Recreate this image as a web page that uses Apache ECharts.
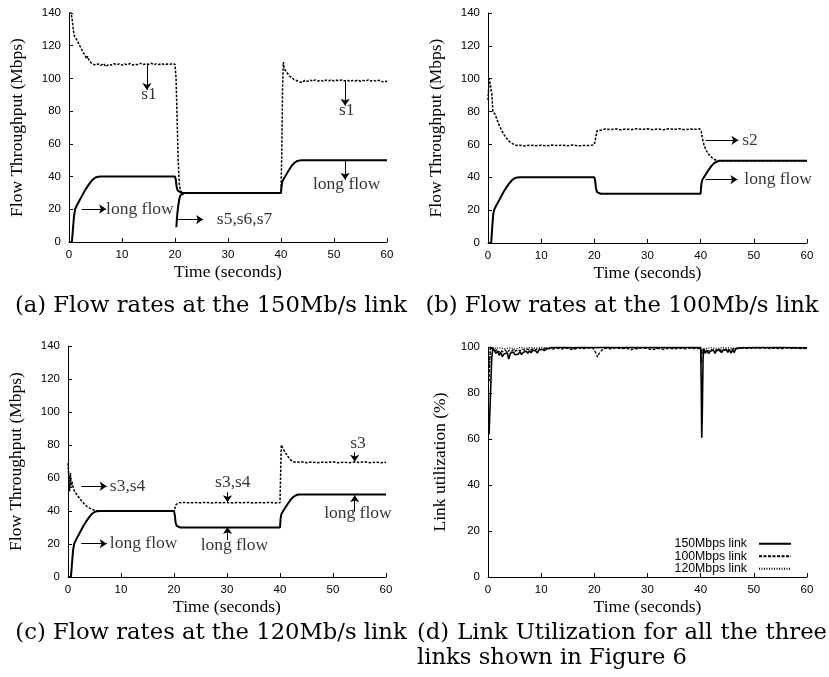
<!DOCTYPE html>
<html><head><meta charset="utf-8">
<script src="https://cdn.jsdelivr.net/npm/echarts@6/dist/echarts.min.js"></script>
<style>html,body{margin:0;padding:0;background:#fff}#c{width:829px;height:677px}</style>
</head><body><div id="c"></div>
<script>
// ---------------- DATA ----------------
const timeTicks = [0, 10, 20, 30, 40, 50, 60];
const rateTicks = [0, 20, 40, 60, 80, 100, 120, 140];
const utilTicks = [0, 20, 40, 60, 80, 100];

// (a) 150Mb/s link
const a_s1 = [[0,140],[0.4,140],[0.6,136],[0.8,130],[1,126],[1.3,124.5],[1.6,123],[2,120],[2.3,118.5],[2.6,116],[3,114.5],[3.3,112],[3.5,113.5],[3.8,111],[4,110.5],[4.3,109],[4.6,109.8],[5,108.2],[5.5,108.8],[6,108],[6.5,109],[7,107.2],[7.5,108.6],[8,108.2],[8.5,109],[9,108.4],[9.5,108.9],[10,108.1],[10.5,108.8],[11,108.3],[11.5,109.1],[12,108.2],[12.5,108.7],[13,108.4],[13.5,109.2],[14,108.5],[14.5,108.9],[15,108.6],[15.5,109.3],[16,108.4],[16.5,108.9],[17,108.5],[17.5,109.1],[18,108.4],[18.5,108.8],[19,108.6],[19.5,109],[20,108.7],[20.2,100],[20.4,75],[20.6,50],[20.8,36],[21,31.5],[21.3,30.2],[22,30],[40,30],[40.15,55],[40.3,95],[40.45,110],[40.6,106],[40.8,107],[41,104],[41.3,103],[41.6,101.5],[42,100.5],[42.5,99.2],[43,98.6],[43.5,98],[44,97.4],[44.5,98.8],[45,98.2],[45.5,99],[46,98.3],[46.5,99.1],[47,98.4],[47.5,98.9],[48,98.2],[48.5,99],[49,98.5],[49.5,99.2],[50,98.4],[50.5,98.9],[51,98.6],[51.5,99.1],[52,98.5],[52.5,98.9],[53,98.2],[53.5,98.8],[54,98.4],[54.5,99],[55,98.3],[55.5,98.8],[56,98.5],[56.5,99.1],[57,98.4],[57.5,98.8],[58,98.3],[58.5,98.9],[59,98.2],[59.5,97.8],[60,98.4]];
const a_long = [[0,0],[0.55,0],[0.75,8],[0.95,16],[1.15,20],[1.5,22.5],[2,25.5],[2.5,28.5],[3,31.5],[3.5,34],[4,36.3],[4.5,38.2],[5,39.4],[5.5,39.9],[6,40],[20,40],[20.15,38],[20.3,34],[20.5,31.5],[20.8,30.3],[21.2,30],[40,30],[40.1,34],[40.25,37],[40.5,38.5],[41,41.2],[41.5,44],[42,46.5],[42.5,48.3],[43,49.4],[43.5,49.9],[44,50],[60,50]];
const a_s567 = [[20.25,9],[20.4,16],[20.6,22],[20.8,26],[21,28.5],[21.3,29.7],[21.8,30],[40,30]];

// (b) 100Mb/s link
const b_s2 = [[0,87],[0.15,96],[0.25,100],[0.6,100],[0.75,90],[0.9,80],[1.1,81],[1.3,78.5],[1.6,76],[2,72.5],[2.5,69],[3,66],[3.5,63.7],[4,61.8],[4.5,60.6],[5,59.8],[5.5,59.3],[6,59.5],[7,59.1],[8,59.6],[9,59.2],[10,59.5],[11,59.1],[12,59.6],[13,59.3],[14,59.5],[15,59.2],[16,59.6],[17,59.1],[18,59.4],[19,59.3],[19.8,59.6],[20.1,61],[20.3,65],[20.5,68.3],[20.8,69.2],[21.5,68.8],[22,69.4],[23,69],[24,69.5],[25,68.9],[26,69.4],[27,69],[28,69.6],[29,69.1],[30,69.5],[31,69],[32,69.4],[33,68.9],[34,69.5],[35,69.1],[36,69.6],[37,69],[38,69.4],[39,69.2],[39.8,69.5],[40.1,68],[40.3,64],[40.6,60],[41,56.5],[41.5,54],[42,52.3],[42.5,51],[43,50.3],[43.5,50],[60,50]];
const b_long = [[0,0],[0.6,0],[0.8,10],[1,18],[1.2,20.5],[1.5,22.5],[2,25.5],[2.5,28.5],[3,31.5],[3.5,34],[4,36.3],[4.5,38.2],[5,39.4],[5.5,39.9],[6,40],[20,40],[20.15,38],[20.3,33.5],[20.5,31],[20.8,30.2],[21.2,30],[40,30],[40.1,35],[40.25,38],[40.5,39.5],[41,42],[41.5,44.5],[42,46.8],[42.5,48.5],[43,49.5],[43.5,50],[60,50]];

// (c) 120Mb/s link
const c_s34 = [[0,69],[0.15,68],[0.3,52],[0.45,63],[0.6,54],[0.75,58],[0.9,55],[1.2,52],[1.5,51],[2,48.5],[2.5,46.3],[3,44.5],[3.5,43],[4,41.9],[4.5,41],[5,40.4],[5.5,40.1],[6,40],[20,40],[20.2,42],[20.4,44],[20.7,44.8],[21,45],[22,45.2],[23,44.9],[24,45.1],[25,45],[26,45.2],[27,44.9],[28,45.1],[29,45],[30,45.2],[31,44.9],[32,45.1],[33,45],[34,45.2],[35,44.9],[36,45.1],[37,45],[38,45.2],[39,44.9],[40,45],[40.1,60],[40.25,80],[40.5,78],[41,75.5],[41.5,73],[42,71],[42.5,69.8],[43,69.5],[44,69.8],[45,69.3],[46,69.7],[47,69.2],[48,69.6],[49,69.4],[50,69.8],[51,69.3],[52,69.6],[53,69.2],[54,69.7],[55,69.4],[56,69.8],[57,69.3],[58,69.6],[59,69.2],[60,69.5]];
const c_long = [[0,0],[0.55,0],[0.75,8],[0.95,16],[1.15,20],[1.5,22.5],[2,25.5],[2.5,28.5],[3,31.5],[3.5,34],[4,36.3],[4.5,38.2],[5,39.4],[5.5,39.9],[6,40],[20,40],[20.15,37.5],[20.3,33],[20.5,31],[20.8,30.2],[21.2,30],[40,30],[40.1,35],[40.25,38],[40.5,39.5],[41,42],[41.5,44.5],[42,46.8],[42.5,48.5],[43,49.5],[43.5,50],[60,50]];

// (d) link utilization
const d_150 = [[0.2,62],[0.4,75],[0.7,95],[0.9,99.6],[1.2,99],[1.5,97.2],[1.8,98.3],[2.1,96.4],[2.4,97.6],[2.7,95.8],[3,96.9],[3.3,96.2],[3.6,97.5],[3.9,94.8],[4.2,97.3],[4.5,96.5],[4.8,97.8],[5.1,96.6],[5.4,97.4],[5.7,96.9],[6,98],[6.3,96.7],[6.6,97.6],[6.9,97.1],[7.2,98.2],[7.5,97.3],[7.8,98.4],[8.1,97.5],[8.4,98.6],[8.7,97.8],[9,98.3],[9.3,97.4],[9.6,98.7],[9.9,98],[10.2,99],[10.6,98.4],[11,99.2],[11.5,99.5],[12,99.8],[13,99.8],[14,99.8],[15,99.8],[16,99.6],[17,99.8],[18,99.8],[19,99.8],[20,99.8],[25,99.8],[30,99.8],[35,99.8],[40,99.8],[40.1,85],[40.2,60.5],[40.3,70],[40.45,95],[40.6,99.2],[40.9,97.3],[41.2,98.6],[41.5,97.1],[41.8,98.2],[42.1,97.6],[42.4,98.7],[42.7,97.2],[43,98.4],[43.3,97.8],[43.6,98.9],[43.9,97.5],[44.2,98.6],[44.5,97.9],[44.8,99],[45.1,97.7],[45.4,98.8],[45.7,97.3],[46,98.9],[46.3,97.6],[46.6,99.2],[47,99.5],[48,99.7],[50,99.8],[55,99.8],[60,99.7]];
const d_100 = [[0.2,85],[0.45,100],[0.8,99.5],[1.2,98.2],[1.6,98.8],[2,97.6],[2.4,98.5],[2.8,97.9],[3.2,98.7],[3.6,97.7],[4,98.6],[4.4,98.1],[4.8,98.9],[5.2,98.2],[5.6,98.8],[6,98.3],[6.5,99],[7,98.5],[7.5,99.1],[8,98.6],[8.5,99.2],[9,98.8],[9.5,99.3],[10,98.9],[11,99.4],[12,99.1],[13,99.5],[14,99.2],[15,99.5],[16,98.8],[16.5,99.3],[17,99.6],[18,99.3],[19,99.6],[19.8,99.4],[20.1,98.2],[20.4,96.8],[20.6,95.6],[20.9,97.2],[21.2,96.5],[21.5,98.8],[22,99.5],[23,99.2],[24,99.6],[25,99.3],[26,99.5],[27,98.8],[27.5,99.4],[28,99.2],[29,99.6],[30,99.2],[31,98.9],[32,99.4],[33,99],[34,99.5],[35,99.1],[36,99.5],[37,99.2],[38,99.6],[39,99.3],[40,99.4],[40.2,97],[40.4,99],[41,98.6],[41.5,98.3],[42,98.9],[42.5,98.4],[43,98.8],[43.5,98.2],[44,98.9],[45,98.5],[46,99.2],[47,99.4],[48,99.6],[49,99.3],[50,99.6],[51,99.4],[52,99.6],[53,99.3],[54,99.5],[55,99.2],[56,99.6],[57,99.4],[58,99.6],[59,99.3],[60,99.4]];
const d_120 = [[0.2,90],[0.45,100],[1,99.8],[1.5,99.3],[2,99.7],[3,99.2],[4,99.6],[5,99.1],[6,99.7],[7,99.4],[8,99.8],[9,99.5],[10,99.8],[12,99.6],[14,99.8],[16,99.7],[18,99.8],[20,99.7],[22,99.8],[24,99.6],[26,99.8],[28,99.5],[30,99.7],[32,99.4],[34,99.7],[36,99.5],[38,99.8],[40,99.7],[40.15,93],[40.3,99],[41,99.4],[42,99.6],[43,99.3],[44,99.7],[46,99.5],[48,99.8],[50,99.6],[52,99.8],[54,99.5],[56,99.7],[58,99.5],[60,99.6]];
const d_names = ['150Mbps link', '100Mbps link', '120Mbps link'];

// annotations: arrows [[from],[to]] and texts [label, t, value, align]
const a_arrows = [[[14.7,108.5],[14.7,93]],[[52.1,98.5],[52.1,83.3]],[[52.1,50],[52.1,38.1]],[[2.4,20.2],[7.0,20.2]],[[20.3,13.7],[25.3,13.7]]];
const a_texts = [['s1',15.1,90,'c'],['s1',52.4,80.7,'c'],['long flow',52.4,35.5,'c'],['long flow',7.0,20.2,'l'],['s5,s6,s7',27.9,13.7,'l']];
const b_arrows = [[[40.9,62.5],[47.1,62.5]],[[40.9,38.6],[46.9,38.6]]];
const b_texts = [['s2',47.8,62.5,'l'],['long flow',48.2,38.6,'l']];
const c_arrows = [[[2.5,55],[7.3,55]],[[2.5,20.2],[7.3,20.2]],[[30.1,51.5],[30.1,45.3]],[[30.1,22.5],[30.1,30.3]],[[54.1,75.7],[54.1,69.9]],[[54.1,39.6],[54.1,49.6]]];
const c_texts = [['s3,s4',7.9,55,'l'],['long flow',7.9,20.2,'l'],['s3,s4',31.1,57.6,'c'],['long flow',31.4,19.2,'c'],['s3',54.7,80.8,'c'],['long flow',54.7,38.6,'c']];

const captions = ['(a) Flow rates at the 150Mb/s link', '(b) Flow rates at the 100Mb/s link', '(c) Flow rates at the 120Mb/s link', '(d) Link Utilization for all the three', 'links shown in Figure 6'];

// ---------------- CHART ----------------
const SERIF = '"Liberation Serif", "Times New Roman", serif';
const SANS = '"Liberation Sans", Arial, sans-serif';
const CAPFONT = '22.7px "DejaVu Serif"';
const grids = [
  {left: 69, top: 13, width: 318, height: 229},
  {left: 488, top: 13, width: 319, height: 230},
  {left: 68, top: 346, width: 318, height: 231},
  {left: 488, top: 347, width: 319, height: 230}
];
function xAx(i) {
  return {type: 'value', gridIndex: i, min: timeTicks[0], max: timeTicks[timeTicks.length-1], interval: timeTicks[1]-timeTicks[0],
    name: 'Time (seconds)', nameLocation: 'middle', nameGap: 21,
    nameTextStyle: {fontFamily: SERIF, fontSize: 17.5, color: '#000'},
    axisLine: {lineStyle: {color: '#000', width: 1}}, axisTick: {inside: true, length: 4, lineStyle: {color: '#000'}},
    axisLabel: {color: '#000', fontFamily: SANS, fontSize: 11.5, margin: 7}, splitLine: {show: false}};
}
function yAx(i, ticks, name, gap) {
  return {type: 'value', gridIndex: i, min: ticks[0], max: ticks[ticks.length-1], interval: ticks[1]-ticks[0],
    name: name, nameLocation: 'middle', nameGap: gap,
    nameTextStyle: {fontFamily: SERIF, fontSize: 17.5, color: '#000'},
    axisLine: {show: true, lineStyle: {color: '#000', width: 1}}, axisTick: {show: true, inside: true, length: 4, lineStyle: {color: '#000'}},
    axisLabel: {color: '#000', fontFamily: SANS, fontSize: 11.5, margin: 8}, splitLine: {show: false}};
}
const DASH = [2.5, 1.5];
function line(name, data, i, type, width, z) {
  return {type: 'line', name: name, xAxisIndex: i, yAxisIndex: i, data: data, symbol: 'none', showSymbol: false,
    lineStyle: {color: '#000', width: width, type: type}, itemStyle: {color: '#000'}, z: z || 2, silent: true, animation: false};
}
function annot(i, arrows, texts) {
  return {type: 'scatter', xAxisIndex: i, yAxisIndex: i, symbolSize: 0, silent: true, animation: false, z: 5,
    data: texts.map(t => ({value: [t[1], t[2]], name: t[0],
      label: t[3] === 'c' ? {position: 'inside', align: 'center', verticalAlign: 'middle'} : {position: 'right', distance: 0}})),
    label: {show: true, formatter: '{b}', color: '#000', fontFamily: SERIF, fontSize: 17.5},
    markLine: {silent: true, animation: false, symbol: ['none', 'arrow'], symbolSize: 7, precision: 3,
      lineStyle: {color: '#000', width: 1, type: 'solid'}, label: {show: false}, emphasis: {disabled: true},
      data: arrows.map(a => [{coord: a[0]}, {coord: a[1]}])}
  };
}
function capText(text, x, y, align) {
  return {type: 'text', x: x, y: y, style: {text: text, font: CAPFONT, fill: '#000', textAlign: align, textVerticalAlign: 'middle'}};
}
// justified first line of caption (d)
function justified(text, x0, width, y) {
  const ctx = document.createElement('canvas').getContext('2d');
  ctx.font = CAPFONT;
  const words = text.split(' ');
  const ws = words.map(w => ctx.measureText(w).width);
  const total = ws.reduce((s, v) => s + v, 0);
  const gap = (width - total) / (words.length - 1);
  let x = x0;
  return words.map((w, k) => { const el = capText(w, x, y, 'left'); x += ws[k] + gap; return el; });
}

const chart = echarts.init(document.getElementById('c'), null, {renderer: 'canvas'});
chart.setOption({
  animation: false,
  backgroundColor: '#fff',
  grid: grids,
  xAxis: [xAx(0), xAx(1), xAx(2), xAx(3)],
  yAxis: [yAx(0, rateTicks, 'Flow Throughput (Mbps)', 43), yAx(1, rateTicks, 'Flow Throughput (Mbps)', 43),
          yAx(2, rateTicks, 'Flow Throughput (Mbps)', 43), yAx(3, utilTicks, 'Link utilization (%)', 39)],
  legend: {data: d_names, orient: 'vertical', right: 32, top: 532.5, align: 'right', itemWidth: 32, itemHeight: 10, itemGap: 0,
    itemStyle: {opacity: 0, borderWidth: 0},
    textStyle: {fontFamily: SANS, fontSize: 12.3, lineHeight: 12.5, color: '#000', padding: [0, 7, 0, 0]}, selectedMode: false, inactiveColor: '#000'},
  series: [
    line('s1', a_s1, 0, DASH, 1.5), line('long flow', a_long, 0, 'solid', 2), line('s5,s6,s7', a_s567, 0, 'solid', 2),
    annot(0, a_arrows, a_texts),
    line('s2', b_s2, 1, DASH, 1.5), line('long flow', b_long, 1, 'solid', 2),
    annot(1, b_arrows, b_texts),
    line('s3,s4', c_s34, 2, DASH, 1.5), line('long flow', c_long, 2, 'solid', 2),
    annot(2, c_arrows, c_texts),
    line(d_names[1], d_100, 3, [3, 1.5], 1.3, 3), line(d_names[2], d_120, 3, [1, 1.5], 1.3, 3), line(d_names[0], d_150, 3, 'solid', 1.6, 4)
  ],
  graphic: [
    capText(captions[0], 211, 306, 'center'),
    capText(captions[1], 622, 306, 'center'),
    capText(captions[2], 211, 633, 'center')
  ].concat(justified(captions[3], 417, 410, 633), [capText(captions[4], 417, 658, 'left')])
});
</script>
</body></html>
